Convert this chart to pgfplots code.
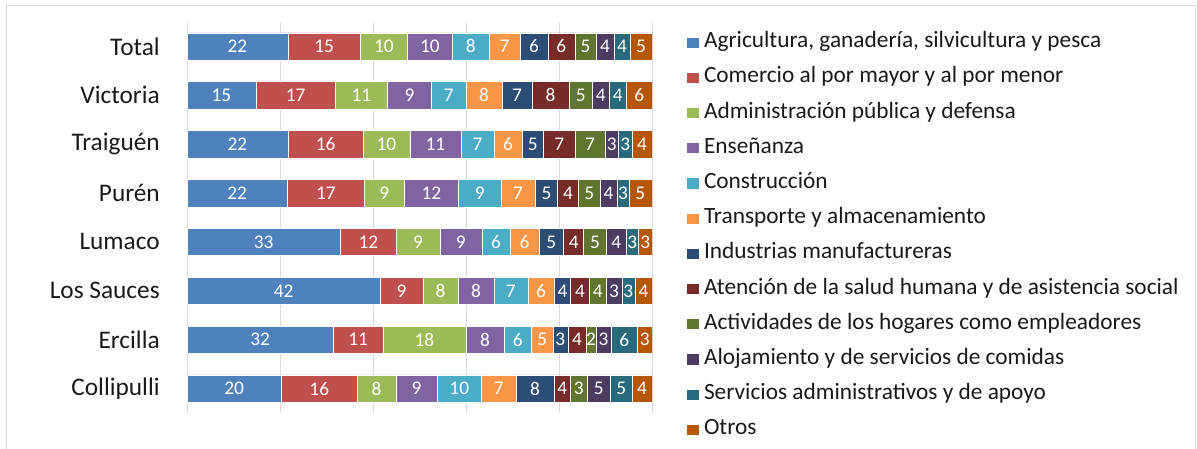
\documentclass[border=0pt]{standalone}
\usepackage{pgfplots}
\pgfplotsset{compat=1.18}
\usepackage{pgfplotstable}
\usepackage{fontspec}
\setmainfont{Carlito}

\definecolor{c1}{HTML}{4F81BD}
\definecolor{c2}{HTML}{C0504D}
\definecolor{c3}{HTML}{9BBB59}
\definecolor{c4}{HTML}{8064A2}
\definecolor{c5}{HTML}{4BACC6}
\definecolor{c6}{HTML}{F79646}
\definecolor{c7}{HTML}{2C4D75}
\definecolor{c8}{HTML}{772C2A}
\definecolor{c9}{HTML}{5F7530}
\definecolor{c10}{HTML}{4D3B62}
\definecolor{c11}{HTML}{276A7C}
\definecolor{c12}{HTML}{B65708}
\definecolor{gridc}{HTML}{D9D9D9}

% y: 0=Total ... 7=Collipulli ; a = segment width (%), l = printed label
\pgfplotstableread{
y a1   a2   a3   a4   a5  a6  a7  a8  a9  a10 a11 a12 l1 l2 l3 l4 l5 l6 l7 l8 l9 l10 l11 l12
0 21.7 15.6 10.1 9.7  7.8 6.8 5.9 5.8 4.6 3.8 3.5 4.7 22 15 10 10 8  7  6  6  5  4   4   5
1 14.8 17.1 11.2 9.5  7.4 7.7 6.5 8.0 5.0 3.6 3.7 5.5 15 17 11 9  7  8  7  8  5  4   4   6
2 21.7 16.2 10.0 11.0 7.2 5.9 4.7 6.7 6.5 2.9 2.9 4.3 22 16 10 11 7  6  5  7  7  3   3   4
3 21.6 16.5 8.6  11.7 9.1 7.4 4.8 4.5 4.6 3.7 2.5 5.0 22 17 9  12 9  7  5  4  5  4   3   5
4 33.0 12.0 9.4  9.0  6.1 6.2 5.3 4.3 4.9 4.2 2.7 2.9 33 12 9  9  6  6  5  4  5  4   3   3
5 41.6 9.1  7.6  7.7  7.3 5.7 3.5 4.0 3.7 3.3 2.8 3.7 42 9  8  8  7  6  4  4  4  3   3   4
6 31.5 10.6 17.9 8.2  5.9 4.6 3.2 3.9 2.2 3.2 5.7 3.1 32 11 18 8  6  5  3  4  2  3   6   3
7 20.3 16.3 8.3  8.9  9.5 7.5 8.1 3.6 3.5 5.1 4.6 4.3 20 16 8  9  10 7  8  4  3  5   5   4
}\data

\begin{document}
\begin{tikzpicture}
\useasboundingbox (0,0) rectangle (897.75pt,-336.75pt);
\draw[color=gridc, line width=0.75pt] (4.5pt,-337pt) -- (4.5pt,-4.5pt) -- (896.6pt,-4.5pt) -- (896.6pt,-337pt);
\begin{axis}[
  at={(140.25pt,-16.5pt)}, anchor=north west,
  scale only axis, width=348.75pt, height=293.25pt,
  xbar stacked, bar width=0.56,
  xmin=0, xmax=100, ymin=-0.5, ymax=7.5, y dir=reverse,
  xtick={0,20,...,100}, xticklabels={},
  ytick={0,...,7},
  yticklabels={Total,Victoria,Traiguén,Purén,Lumaco,Los Sauces,Ercilla,Collipulli},
  major tick length=0pt,
  xmajorgrids, grid style={color=gridc, line width=0.75pt},
  axis line style={draw=none},
  yticklabel style={font=\fontsize{19}{19}\selectfont, inner sep=0pt, xshift=-20.25pt, text=black!90},
  /pgf/number format/assume math mode=true,
  point meta=explicit,
  nodes near coords={\pgfmathprintnumber{\pgfplotspointmeta}},
  every node near coord/.append style={font=\fontsize{14.5}{14.5}\selectfont, text=white, anchor=center, inner sep=0pt},
  legend style={draw=none, fill=none, at={(1.073,0.975)}, anchor=north west, inner sep=0pt, outer sep=0pt,
    font=\fontsize{17.5}{17.5}\selectfont, row sep=10.4pt, column sep=3.75pt,
    nodes={inner sep=0pt, text height=12pt, text depth=4pt, text=black!90}},
  legend cell align=left,
  legend image code/.code={\fill[#1] (0pt,-4.2pt) rectangle (9.5pt,4.2pt);},
  legend entries={{Agricultura, ganadería, silvicultura y pesca},
    Comercio al por mayor y al por menor,
    Administración pública y defensa,
    Enseñanza,
    Construcción,
    Transporte y almacenamiento,
    Industrias manufactureras,
    Atención de la salud humana y de asistencia social,
    Actividades de los hogares como empleadores,
    Alojamiento y de servicios de comidas,
    Servicios administrativos y de apoyo,
    Otros},
]
\pgfplotsinvokeforeach{1,...,12}{
  \addplot[fill=c#1, draw=white, line width=0.3pt]
    table[x=a#1, y=y, meta=l#1] {\data};
}
\end{axis}
\end{tikzpicture}
\end{document}
